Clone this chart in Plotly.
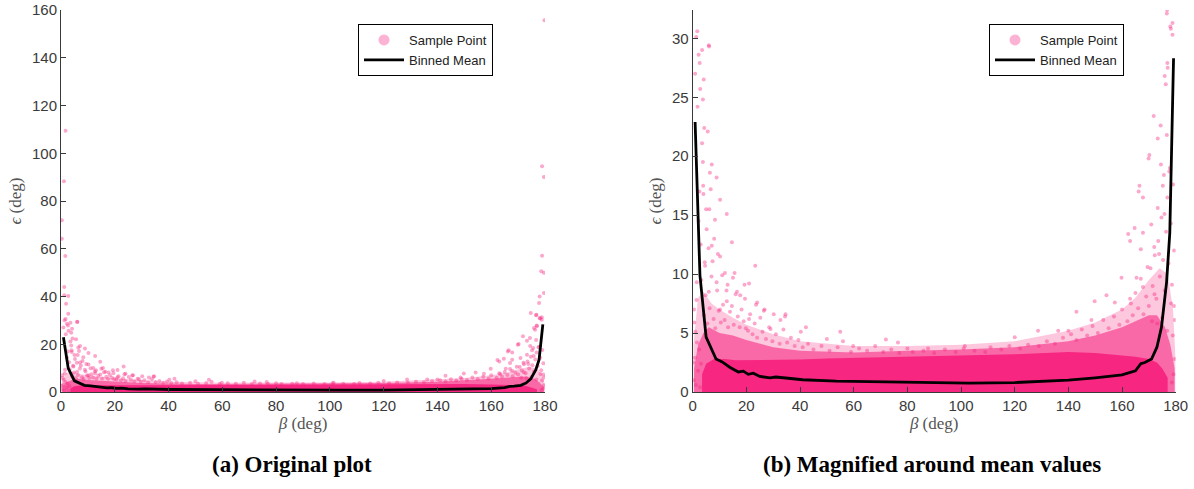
import plotly.graph_objects as go

# ---------------- data ----------------
# binned mean of epsilon vs beta
mean_beta = [0.9, 2.7, 5.0, 6.4, 8.7, 11.0, 13.8, 17.0, 18.9, 20.7, 22.6, 25.0, 28.8, 31.0,
             41.0, 53.5, 72.0, 85.0, 95.0, 103.0, 120.0, 130.0, 140.0, 150.0, 160.0, 165.0,
             167.0, 168.5, 171.0, 173.0, 174.7, 176.6, 177.8, 179.2]
mean_eps = [22.9, 9.9, 4.65, 3.9, 2.8, 2.55, 2.1, 1.7, 1.77, 1.5, 1.6, 1.32, 1.2, 1.27,
            1.04, 0.93, 0.85, 0.79, 0.75, 0.75, 0.8, 0.9, 1.0, 1.2, 1.45, 1.8,
            2.4, 2.5, 2.8, 3.8, 5.5, 9.3, 13.5, 28.3]

# saturated core of the sample cloud (upper edge; lower edge is 0)
core_beta = [3.5, 5, 8, 12, 16, 20, 25, 30, 40, 50, 60, 80, 100, 120, 140, 150, 160, 165,
             170, 173, 175, 177]
core_eps = [1.5, 2.4, 2.8, 2.8, 2.7, 2.7, 2.7, 2.7, 2.75, 2.85, 2.9, 3.0, 3.1, 3.2, 3.4, 3.3,
            3.1, 3.0, 2.8, 2.5, 2.0, 1.2]

# dense mottled zone above the core
inner_beta = [0.5, 2, 4, 6, 10, 15, 20, 25, 30, 40, 50, 60, 80, 100, 120, 140, 150, 160, 165,
              170, 173, 176, 178, 179.6]
inner_eps = [2.0, 4.0, 5.0, 5.5, 5.0, 4.8, 4.4, 4.1, 3.8, 3.5, 3.4, 3.35, 3.5, 3.6, 3.8, 4.3,
             4.8, 5.5, 6.0, 6.5, 6.5, 5.5, 4.0, 2.0]

# sparse outer zone of the cloud
outer_beta = [0.3, 2, 4, 7, 10, 15, 20, 30, 40, 60, 80, 100, 120, 140, 150, 160, 165, 170,
              174, 177, 179, 179.9]
outer_eps = [4.0, 8.0, 8.5, 7.5, 7.0, 6.3, 5.7, 4.9, 4.3, 3.9, 3.9, 4.0, 4.3, 5.2, 5.9, 7.0,
             8.0, 9.5, 10.5, 10.0, 7.0, 3.0]

# individual sample points outside the dense region
pt_beta = [1.7, 1.3, 6.0, 3.5, 2.6, 0.9, 2.8, 3.8, 1.8, 4.3, 5.6, 3.5, 7.1, 6.4, 8.9, 3.9,
           10.2, 6.2, 12.7, 8.3, 5.2, 14.6, 7.1, 10.2, 4.6, 23.3, 12.0, 15.0, 8.9, 21.0,
           6.0, 16.5, 19.5, 12.7, 24.0, 10.2, 26.5, 34.6, 32.7, 42.2, 40.3, 55.0, 50.0, 72.0,
           59.8, 29.0, 21.0, 1.5, 0.5, 1.0, 0.3,
           176.7, 178.8, 178.2, 178.8, 176.9, 175.9, 176.3, 171.8, 173.3, 176.7, 170.2, 174.5,
           177.6, 166.5, 175.2, 167.8, 173.3, 164.7, 167.8, 170.9, 175.8, 162.3, 172.0, 167.0,
           173.8, 169.5, 159.8, 165.4, 167.8, 172.1, 154.2, 149.8, 157.3, 163.3, 178.3, 179.4,
           143.0, 148.6, 136.2, 140.0, 128.7, 120.0, 101.4, 87.7, 76.5,
           1.7, 1.1, 0.3, 0.3, 1.6, 1.2, 1.2, 2.7, 1.9, 2.7, 6.1, 2.2, 4.1,
           179.8, 178.9, 179.6, 178.9, 178.6, 179.6, 179.6, 178.0, 177.8, 174.7, 176.8, 178.0,
           177.0, 166.2, 169.9, 163.0, 174.4, 175.6,
           4.2, 4.8, 5.5, 6.3, 7.0, 7.8, 8.4, 9.1, 9.7, 3.2, 3.0, 2.2, 4.5, 5.9, 7.4, 8.0, 9.4,
           2.5, 3.8, 5.0, 4.0, 6.7,
           10.5, 11.3, 11.9, 12.6, 13.2, 13.9, 14.6, 15.3, 16.0, 16.8, 17.5, 18.2, 19.0, 19.8,
           11.0, 13.0, 15.6, 17.7, 19.3,
           20.6, 21.4, 22.3, 23.1, 24.0, 25.2, 26.0, 27.3, 28.5, 29.7, 31.0, 32.4, 33.8, 35.2,
           36.6, 38.0, 39.4, 23.6, 26.8, 30.2, 34.4,
           41, 43, 45, 48, 51, 54, 56, 59, 62, 65, 68, 71, 74, 77, 80, 82, 86, 90, 94, 98, 101,
           105, 109, 111, 115, 118, 122, 125, 129, 132, 135, 138,
           141, 143, 145, 147, 149, 151, 153, 155, 157, 159, 160, 162, 163, 164, 165, 166, 167,
           168, 169, 170,
           170.6, 171.4, 172.2, 172.8, 173.5, 174.1, 174.7, 175.3, 175.9, 176.4, 176.9, 177.3,
           177.8, 178.2, 178.6, 179.0, 179.4, 179.7, 171.2, 173.1, 175.0, 176.8, 178.9, 179.6,
           179.2, 178.6,
           0.4, 0.8, 1.2, 1.6, 2.0, 2.4, 0.6, 2.8, 3.1, 1.4]
pt_eps = [30.6, 30.1, 29.4, 29.0, 27.9, 27.0, 25.7, 24.8, 24.2, 22.4, 22.1, 21.1, 19.3, 18.6,
          18.2, 17.5, 16.3, 15.5, 15.1, 14.6, 13.8, 12.7, 12.4, 11.5, 10.7, 10.7, 10.1, 9.7,
          9.3, 9.2, 8.5, 8.5, 7.9, 7.7, 7.6, 7.0, 6.9, 6.6, 6.1, 5.5, 5.1, 5.1, 4.5, 4.45,
          3.9, 5.35, 6.2, 9.3, 7.0, 5.1, 2.5,
          32.1, 31.3, 30.8, 30.3, 27.9, 26.8, 26.1, 23.4, 21.5, 21.8, 20.1, 19.3,
          18.7, 17.5, 17.5, 16.5, 15.6, 13.9, 13.5, 14.2, 15.1, 13.4, 12.3, 12.1,
          11.7, 10.6, 9.7, 9.7, 8.9, 8.3, 8.2, 7.7, 7.6, 7.5, 7.5, 7.3,
          6.8, 6.1, 5.2, 5.2, 5.2, 4.65, 3.9, 3.7, 4.2,
          109.4, 88.3, 71.9, 64.2, 57.0, 44.0, 40.5, 40.2, 37.0, 32.8, 29.3, 28.6, 26.5,
          155.7, 94.6, 90.1, 57.1, 50.6, 49.9, 41.5, 40.0, 37.3, 33.1, 32.4, 31.0,
          27.5, 17.0, 19.8, 12.8, 22.6, 18.4,
          6.5, 8.2, 5.8, 7.1, 9.8, 6.2, 5.4, 8.6, 6.9, 9.5, 12.5, 14.5, 11.0, 12.2, 11.1, 13.0,
          11.7, 17.0, 19.5, 15.5, 16.8, 17.2,
          5.9, 7.4, 6.1, 8.6, 5.5, 6.8, 7.3, 5.7, 8.3, 6.4, 5.5, 7.0, 6.0, 5.4,
          9.9, 9.1, 10.1, 8.2, 9.1,
          5.2, 6.6, 4.9, 5.8, 4.6, 6.3, 5.1, 4.5, 5.5, 4.3, 4.9, 4.1, 5.3, 4.2,
          4.6, 3.9, 4.4, 7.4, 7.0, 6.6, 6.4,
          3.8, 4.1, 3.6, 3.9, 3.5, 3.8, 4.3, 3.4, 3.7, 3.5, 3.9, 3.4, 3.6, 3.3, 3.7, 3.4, 3.5,
          3.3, 3.6, 3.4, 3.7, 3.5, 3.4, 3.8, 3.6, 3.9, 3.7, 4.0, 3.9, 4.3, 4.1, 4.6,
          4.9, 4.4, 5.3, 4.8, 5.6, 5.0, 6.1, 5.4, 6.4, 5.7, 7.0, 6.0, 7.9, 6.5, 8.4, 7.1, 9.6,
          6.6, 8.1, 7.3,
          10.5, 9.0, 11.6, 7.9, 12.8, 9.8, 14.8, 11.2, 8.6, 13.6, 16.5, 10.9,
          19.0, 14.3, 9.1, 17.6, 12.0, 6.1, 6.0, 5.8, 6.3, 5.2, 4.8, 2.8,
          1.5, 0.8,
          1.0, 2.9, 0.6, 4.2, 1.8, 3.6, 5.9, 0.4, 2.4, 7.8]

x_ticks = [0, 20, 40, 60, 80, 100, 120, 140, 160, 180]
y1_ticks = [0, 20, 40, 60, 80, 100, 120, 140, 160]
y2_ticks = [0, 5, 10, 15, 20, 25, 30]

PINK = "rgb(247,38,128)"
PINK_PT = "rgba(247,38,128,0.40)"
PINK_INNER = "rgba(247,38,128,0.58)"
PINK_OUTER = "rgba(247,38,128,0.26)"
PINK_LEG = "rgba(247,38,128,0.35)"
AXC = "#3a3a3a"

W, H = 1194, 489


def px_x(p):
    return p / W


def px_y(p):
    return 1 - p / H


fig = go.Figure()

for xa, ya, leg in [("x", "y", "legend"), ("x2", "y2", "legend2")]:
    for bx, by, col in [(outer_beta, outer_eps, PINK_OUTER), (inner_beta, inner_eps, PINK_INNER),
                        (core_beta, core_eps, PINK)]:
        fig.add_trace(go.Scatter(x=bx, y=by, mode="lines", line=dict(width=0),
                                 fill="tozeroy", fillcolor=col, hoverinfo="skip",
                                 showlegend=False, xaxis=xa, yaxis=ya))
    fig.add_trace(go.Scatter(x=pt_beta, y=pt_eps, mode="markers",
                             marker=dict(size=4, color=PINK_PT, line=dict(width=0)),
                             showlegend=False, xaxis=xa, yaxis=ya, cliponaxis=True))
    # legend entries
    fig.add_trace(go.Scatter(x=[None], y=[None], mode="markers", name="Sample Point",
                             marker=dict(size=11, color=PINK_LEG), legend=leg,
                             xaxis=xa, yaxis=ya))
    fig.add_trace(go.Scatter(x=mean_beta, y=mean_eps, mode="lines", name="Binned Mean",
                             line=dict(color="black", width=2.8), legend=leg,
                             xaxis=xa, yaxis=ya))

ydom = [px_y(392), px_y(10)]
axis_common = dict(showline=True, linecolor=AXC, linewidth=1, ticks="inside", ticklen=5,
                   tickcolor=AXC, tickwidth=1, showgrid=False, zeroline=False, mirror=False,
                   automargin=False, ticklabeloverflow="allow",
                   tickfont=dict(family="Liberation Sans, Arial", size=15, color=AXC))
title_font = dict(family="Liberation Serif, DejaVu Serif", size=17, color="#555555")
leg_font = dict(family="Liberation Sans, Arial", size=13, color="#222")

fig.update_layout(
    width=W, height=H,
    margin=dict(l=0, r=0, t=0, b=0),
    paper_bgcolor="white", plot_bgcolor="white",
    xaxis=dict(domain=[px_x(61), px_x(545)], range=[0, 180], tickvals=x_ticks, anchor="y",
               title=dict(text="<i>β</i> (deg)", font=title_font, standoff=4), **axis_common),
    yaxis=dict(domain=ydom, range=[0, 160], tickvals=y1_ticks,
               anchor="x", title=dict(text="<i>ϵ</i> (deg)", font=title_font, standoff=6),
               **axis_common),
    xaxis2=dict(domain=[px_x(692.7), px_x(1175.7)], range=[0, 180], tickvals=x_ticks,
                anchor="y2", title=dict(text="<i>β</i> (deg)", font=title_font, standoff=4),
                **axis_common),
    yaxis2=dict(domain=ydom, range=[0, 32.4], tickvals=y2_ticks, anchor="x2",
                title=dict(text="<i>ϵ</i> (deg)", font=title_font, standoff=6), **axis_common),
    legend=dict(x=px_x(358), y=px_y(24), xanchor="left", yanchor="top",
                bgcolor="white", bordercolor="black", borderwidth=1, font=leg_font,
                tracegroupgap=0, itemwidth=40),
    legend2=dict(x=px_x(989), y=px_y(24), xanchor="left", yanchor="top",
                 bgcolor="white", bordercolor="black", borderwidth=1, font=leg_font,
                 tracegroupgap=0, itemwidth=40),
    annotations=[
        dict(text="<b>(a) Original plot</b>", x=px_x(292), y=px_y(464), xref="paper",
             yref="paper", showarrow=False, xanchor="center", yanchor="middle",
             font=dict(family="Liberation Serif, Times New Roman", size=23, color="black")),
        dict(text="<b>(b) Magnified around mean values</b>", x=px_x(932), y=px_y(464),
             xref="paper", yref="paper", showarrow=False, xanchor="center", yanchor="middle",
             font=dict(family="Liberation Serif, Times New Roman", size=23, color="black")),
    ],
)

fig.write_html("out.html", config={"displayModeBar": False},
               post_script="document.body.style.margin='0px';document.body.style.overflow='hidden';")
